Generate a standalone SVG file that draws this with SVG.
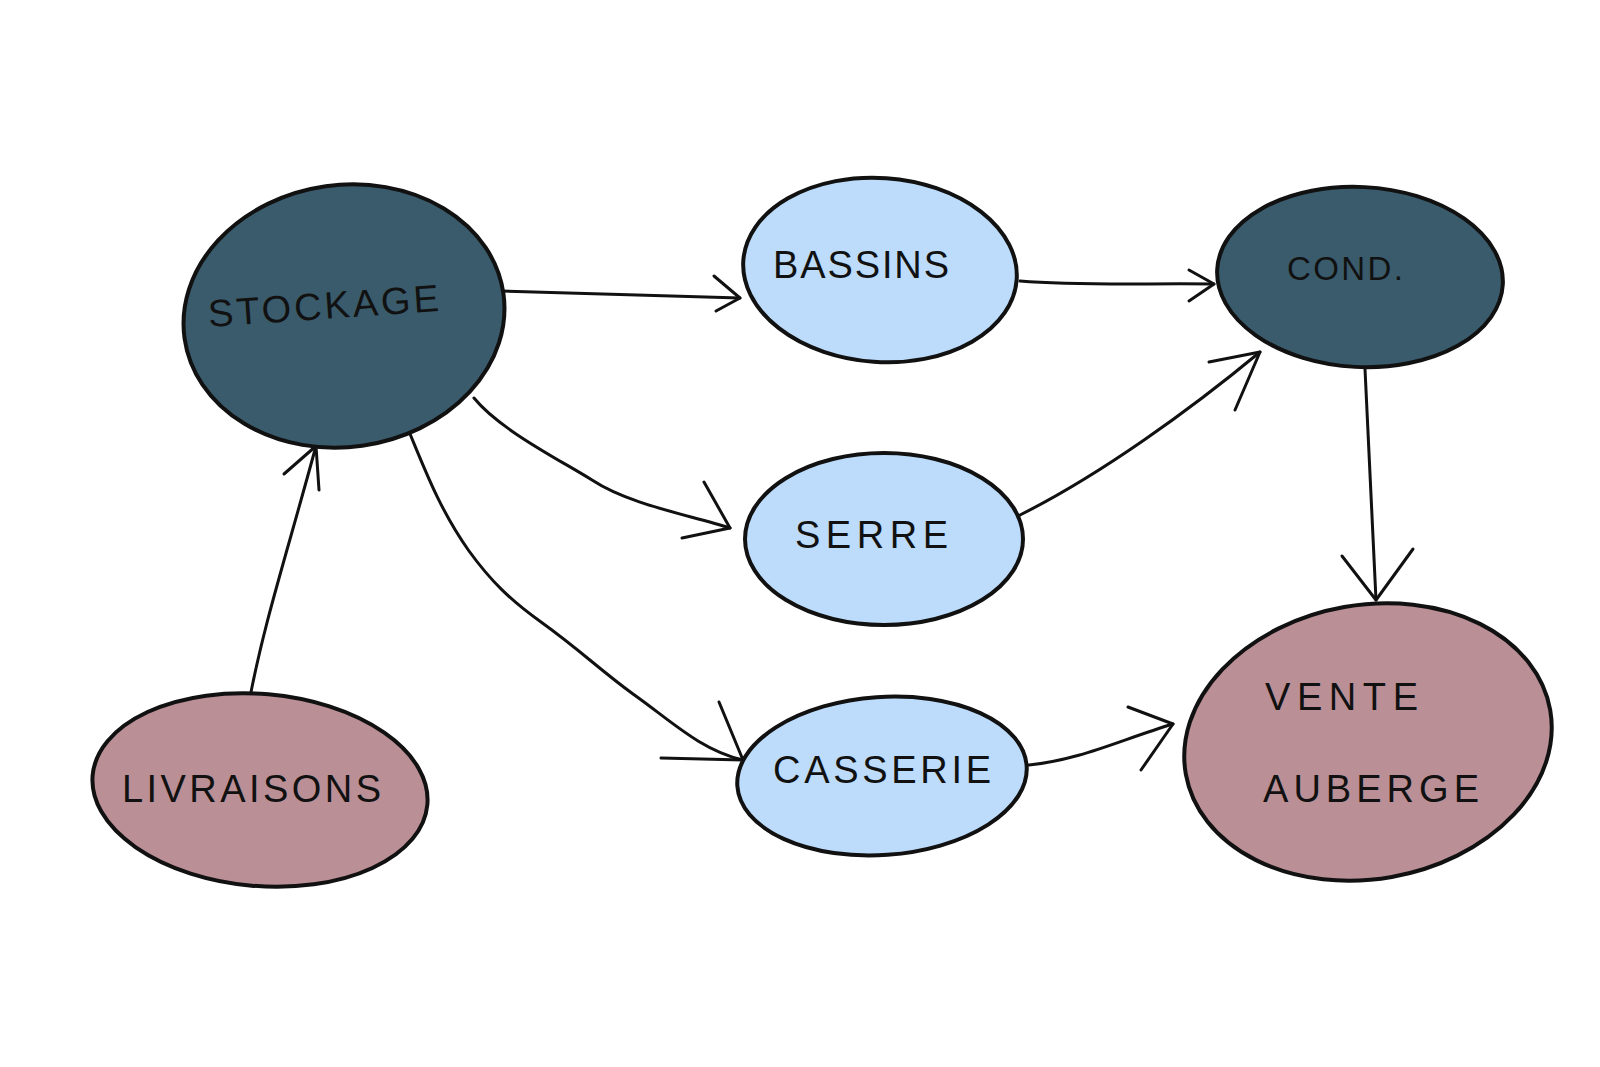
<svg xmlns="http://www.w3.org/2000/svg" width="1600" height="1067" viewBox="0 0 1600 1067">
<style>
.shape{stroke:#111;stroke-width:4;stroke-linejoin:round}
.dark{fill:#3a5b6b}
.light{fill:#bddcfb}
.mauve{fill:#ba8f96}
.lbl{font-family:"Liberation Sans","DejaVu Sans",sans-serif;font-size:38px;fill:#111;letter-spacing:4px}
.edge{fill:none;stroke:#111;stroke-width:3;stroke-linecap:round;stroke-linejoin:round}
</style>
<rect width="1600" height="1067" fill="#fff"/>
<g id="connectors">
  <path class="edge" d="M500,291 L740,298"/>
  <path class="edge" d="M714,276 L740,298 L716,311"/>
  <path class="edge" d="M1020,281 C1080,286 1150,283 1214,284"/>
  <path class="edge" d="M1189,270 L1214,284 L1189,301"/>
  <path class="edge" d="M474,398 C500,430 560,460 592,480 C630,505 690,515 730,528"/>
  <path class="edge" d="M704,482 L730,528 L682,538"/>
  <path class="edge" d="M1020,515 C1100,475 1190,410 1260,352"/>
  <path class="edge" d="M1209,362 L1260,352 L1235,410"/>
  <path class="edge" d="M408,429 C425,470 440,510 469,551 C490,580 510,600 541,622 C580,650 600,670 633,694 C670,720 700,750 743,760"/>
  <path class="edge" d="M719,702 L743,760 L661,758"/>
  <path class="edge" d="M1029,765 C1080,760 1120,740 1173,724"/>
  <path class="edge" d="M1128,707 L1173,724 L1141,770"/>
  <path class="edge" d="M1365,369 L1376,600"/>
  <path class="edge" d="M1342,556 L1376,600 L1413,549"/>
  <path class="edge" d="M250,697 C265,620 285,560 316,446"/>
  <path class="edge" d="M284,474 L316,446 L319,490"/>
</g>
<g id="node-stockage">
  <ellipse class="shape dark" cx="344" cy="316" rx="161" ry="131" transform="rotate(-8 344 316)"/>
  <text class="lbl" x="209" y="327" textLength="235" lengthAdjust="spacing" transform="rotate(-4 209 327)">STOCKAGE</text>
</g>
<g id="node-bassins">
  <ellipse class="shape light" cx="880" cy="270" rx="137" ry="92" transform="rotate(4 880 270)"/>
  <text class="lbl" x="773" y="278" textLength="180" lengthAdjust="spacing">BASSINS</text>
</g>
<g id="node-cond">
  <ellipse class="shape dark" cx="1360" cy="277" rx="143" ry="90" transform="rotate(3 1360 277)"/>
  <text class="lbl" x="1287" y="280" style="font-size:33px;letter-spacing:2px" textLength="118" lengthAdjust="spacing">COND.</text>
</g>
<g id="node-serre">
  <ellipse class="shape light" cx="884" cy="539" rx="139" ry="86"/>
  <text class="lbl" x="795" y="548" textLength="157" lengthAdjust="spacing">SERRE</text>
</g>
<g id="node-casserie">
  <ellipse class="shape light" cx="882" cy="776" rx="145" ry="79" transform="rotate(-4 882 776)"/>
  <text class="lbl" x="773" y="783" textLength="222" lengthAdjust="spacing">CASSERIE</text>
</g>
<g id="node-livraisons">
  <ellipse class="shape mauve" cx="260" cy="790" rx="168" ry="96" transform="rotate(5 260 790)"/>
  <text class="lbl" x="122" y="802" textLength="263" lengthAdjust="spacing">LIVRAISONS</text>
</g>
<g id="node-vente">
  <ellipse class="shape mauve" cx="1368" cy="742" rx="185" ry="137" transform="rotate(-10 1368 742)"/>
  <text class="lbl" x="1265" y="710" textLength="157" lengthAdjust="spacing">VENTE</text>
  <text class="lbl" x="1263" y="802" textLength="220" lengthAdjust="spacing">AUBERGE</text>
</g>
</svg>
